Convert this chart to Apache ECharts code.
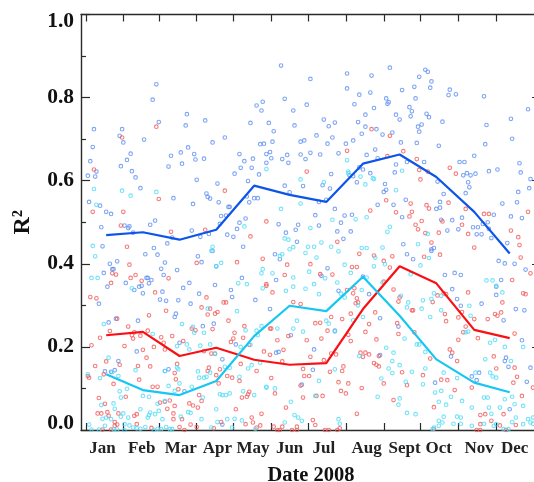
<!DOCTYPE html>
<html><head><meta charset="utf-8">
<script src="https://cdn.jsdelivr.net/npm/echarts@6/dist/echarts.min.js"></script>
<style>html,body{margin:0;padding:0;background:#fff;overflow:hidden}#c{width:534px;height:482px}</style>
</head><body><div id="c"></div>
<script>
const monthLabels=['Jan','Feb','Mar','Apr','May','Jun','Jul','Aug','Sept','Oct','Nov','Dec'];
const monthLabelDays=[13,45,77,107,136,166,194,229,260,288,321,350];
const monthStartDays=[0,30,59,90,120,151,181,212,243,273,304,335];
const lineDays=[16,46,76,106,137,166,196,226,256,286,317,346];
const blueLine=[.469,.476,.458,.482,.588,.566,.549,.641,.663,.609,.525,.425];
const redLine=[.228,.236,.178,.198,.169,.157,.161,.291,.394,.353,.241,.221];
const cyanLine=[.134,.096,.084,.118,.226,.299,.286,.369,.275,.17,.114,.091];
const bluePoints=[[1,.612],[3,.647],[5,.681],[6,.724],[8,.622],[7,.61],[2,.549],[11,.54],[16,.525],[20,.52],[12,.488],[31,.492],[34,.486],[35,.49],[38,.475],[27,.708],[29,.724],[30,.692],[36,.665],[33,.65],[28,.635],[37,.623],[40,.608],[44,.582],[47,.699],[54,.795],[57,.832],[59,.741],[69,.66],[67,.634],[77,.668],[78,.641],[83,.68],[81,.733],[82,.76],[88,.664],[89,.651],[96,.653],[97,.745],[90,.602],[103,.692],[113,.704],[107,.593],[98,.569],[99,.561],[101,.557],[71,.558],[87,.544],[108,.548],[116,.537],[117,.537],[109,.496],[110,.515],[114,.516],[125,.664],[126,.631],[129,.647],[121,.617],[132,.599],[135,.631],[136,.653],[134,.739],[139,.781],[144,.79],[143,.769],[142,.688],[145,.689],[147,.664],[141,.615],[147,.643],[131,.562],[137,.558],[140,.558],[133,.548],[130,.509],[125,.499],[123,.484],[120,.465],[115,.47],[56,.504],[52,.494],[86,.48],[93,.465],[100,.472],[70,.463],
[13,.442],[19,.4],[25,.406],[21,.387],[22,.387],[14,.378],[17,.345],[10,.304],[32,.354],[39,.337],[43,.345],[45,.347],[46,.329],[48,.423],[55,.438],[58,.422],[49,.366],[50,.366],[53,.361],[51,.353],[64,.403],[61,.388],[63,.373],[66,.449],[74,.385],[62,.333],[60,.314],[65,.311],[75,.312],[84,.354],[79,.342],[85,.304],[92,.328],[91,.418],[94,.404],[106,.394],[103,.431],[105,.349],[118,.337],[119,.32],[128,.441],[127,.366],[138,.313],[73,.28],[72,.272],[42,.263],[24,.268],[18,.259],[41,.189],[26,.166],[23,.144],[20,.14],[15,.141],[76,.21],[95,.25],[104,.256],[122,.206],[111,.17],[67,.146],[64,.142],[80,.093],[111,.013],
[159,.877],[183,.845],[213,.858],[213,.822],[233,.853],[248,.872],[277,.867],[279,.862],[272,.85],[282,.839],[281,.824],[268,.826],[258,.818],[232,.812],[223,.807],[297,.819],[296,.806],[302,.808],[325,.803],[269,.798],[245,.798],[247,.789],[246,.785],[219,.784],[162,.797],[180,.783],[169,.769],[235,.775],[264,.777],[266,.767],[265,.755],[253,.759],[256,.747],[228,.759],[278,.761],[280,.753],[194,.747],[203,.74],[198,.731],[222,.741],[274,.735],[271,.73],[272,.718],[291,.742],[327,.734],[347,.749],[361,.772],[149,.739],[170,.733],[153,.719],[228,.73],[237,.724],[225,.713],[250,.716],[242,.711],[188,.709],[201,.704],[152,.694],[175,.694],[178,.697],[197,.689],[218,.697],[212,.689],[257,.692],[270,.691],[288,.684],[326,.688],[348,.701],[150,.669],[164,.662],[160,.652],[165,.643],[151,.654],[175,.663],[179,.652],[183,.667],[191,.663],[206,.666],[229,.662],[236,.675],[238,.654],[253,.639],[262,.645],[276,.645],[317,.66],[305,.645],[309,.645],[354,.642],[355,.62],[329,.623],[336,.627],[223,.632],[226,.627],[252,.62],[232,.618],[200,.616],[215,.613],[218,.611],[287,.598],[311,.618],[314,.613],[318,.617],[308,.613],[312,.596],[313,.584],[221,.596],[363,.604],[362,.582],[162,.588],[177,.587],[193,.589],[199,.581],[244,.592],[245,.578],[243,.573],[353,.573],[292,.568],[310,.57],[166,.572],[196,.554],[190,.549],[289,.549],[286,.532],[289,.535],[261,.554],[251,.542],[238,.542],[340,.545],[352,.548],[203,.532],[187,.517],[211,.516],[217,.518],[258,.512],[208,.499],[157,.495],[173,.494],[171,.482],[190,.492],[163,.475],[205,.478],[216,.478],[210,.46],[290,.506],[299,.505],[307,.511],[304,.483],[295,.48],[316,.488],[320,.488],[324,.496],[328,.5],[333,.518],[319,.471],[323,.471],[329,.484],[331,.462],[347,.514],[356,.51],
[154,.423],[158,.411],[172,.453],[155,.361],[197,.389],[192,.371],[206,.335],[226,.369],[231,.327],[262,.423],[259,.447],[267,.411],[282,.435],[284,.438],[282,.431],[293,.373],[301,.378],[306,.373],[337,.407],[342,.401],[350,.4],[344,.45],[339,.361],[335,.345],[335,.325],[359,.386],[299,.339],[303,.315],[306,.299],[323,.304],[341,.264],[351,.291],[358,.288],[255,.249],[240,.269],[203,.239],[167,.228],[150,.291],[356,.216],[157,.188],[155,.186],[186,.194],[240,.18],[298,.177],[342,.166],[343,.174],[363,.15],[345,.152],[185,.145],[176,.109],[285,.114],[315,.129],[321,.138],[360,.116],[319,.12],[346,.05]];
const redPoints=[[6,.627],[29,.704],[57,.73],[59,.556],[113,.576],[5,.525],[30,.525],[28,.492],[69,.477],[97,.482],[134,.466],[147,.502],
[33,.441],[35,.398],[40,.373],[36,.366],[45,.359],[20,.354],[21,.377],[24,.374],[3,.32],[8,.317],[56,.331],[67,.365],[90,.402],[123,.404],[144,.412],[147,.351],[98,.319],[94,.295],[101,.292],[65,.287],[99,.278],[105,.28],[107,.284],[112,.307],[114,.307],[116,.263],[51,.276],[34,.249],[25,.268],[86,.244],[89,.24],[103,.243],[129,.25],[121,.234],[11,.222],[4,.204],[19,.238],[39,.235],[37,.228],[38,.22],[44,.227],[50,.239],[61,.223],[70,.226],[63,.21],[64,.194],[55,.2],[31,.202],[46,.193],[49,.174],[79,.214],[120,.22],[118,.212],[128,.222],[133,.205],[96,.19],[102,.184],[105,.184],[145,.189],[16,.165],[27,.157],[7,.154],[42,.154],[52,.153],[74,.159],[126,.159],[100,.15],[109,.146],[99,.142],[139,.142],[1,.13],[2,.126],[14,.134],[106,.132],[115,.13],[119,.126],[125,.118],[72,.137],[43,.121],[73,.122],[108,.112],[22,.111],[54,.104],[58,.104],[75,.098],[133,.092],[132,.086],[131,.08],[127,.078],[32,.08],[10,.077],[92,.084],[94,.07],[84,.064],[60,.066],[68,.071],[64,.068],[87,.059],[91,.054],[72,.058],[15,.063],[66,.051],[26,.04],[9,.04],[12,.04],[17,.043],[18,.034],[39,.034],[41,.038],[71,.04],[122,.05],[143,.039],[135,.03],[23,.019],[71,.026],[78,.026],[130,.014],[85,.013],[136,.018],[142,.011],[139,.006],[90,.007],[110,.019],[104,.004],[53,.005],[80,0],[23,.01],[76,.007],[13,.001],[20,.001],[41,.014],[25,.013],
[233,.724],[248,.708],[213,.672],[180,.622],[246,.659],[259,.671],[270,.652],[272,.626],[279,.622],[273,.603],[297,.631],[302,.617],[245,.553],[265,.545],[278,.541],[280,.533],[296,.547],[310,.532],[232,.528],[253,.524],[266,.525],[264,.514],[325,.52],[329,.52],[361,.525],[274,.503],[269,.494],[271,.483],[291,.502],[307,.494],[277,.474],[288,.475],[312,.472],[347,.48],[353,.464],
[164,.398],[183,.399],[162,.373],[191,.375],[201,.374],[169,.308],[175,.303],[152,.331],[147,.347],[217,.392],[221,.392],[235,.42],[243,.407],[248,.391],[250,.418],[223,.424],[205,.453],[276,.417],[289,.422],[282,.451],[317,.439],[354,.445],[355,.415],[363,.377],[348,.361],[243,.357],[213,.337],[219,.341],[218,.329],[251,.338],[221,.317],[222,.307],[220,.305],[256,.319],[255,.309],[266,.288],[267,.288],[216,.28],[209,.267],[236,.283],[283,.308],[287,.324],[292,.329],[294,.327],[312,.331],[293,.279],[294,.262],[304,.271],[307,.284],[317,.267],[328,.267],[334,.279],[336,.275],[339,.283],[357,.329],[359,.327],[340,.307],[200,.272],[187,.257],[191,.258],[197,.239],[150,.244],[151,.244],[231,.255],[214,.229],[254,.257],[255,.231],[268,.235],[308,.235],[310,.249],[350,.232],[165,.226],[228,.236],[192,.22],[180,.216],[156,.216],[216,.214],[237,.218],[304,.217],[320,.221],[161,.193],[150,.181],[200,.184],[204,.182],[183,.176],[194,.168],[224,.186],[228,.186],[226,.176],[231,.182],[239,.178],[235,.161],[237,.157],[239,.153],[160,.165],[281,.172],[297,.194],[299,.186],[303,.166],[333,.177],[335,.148],[350,.15],[210,.153],[177,.147],[199,.14],[209,.142],[258,.139],[275,.132],[178,.13],[182,.13],[352,.128],[151,.125],[349,.114],[206,.115],[262,.108],[243,.112],[290,.121],[295,.12],[214,.112],[175,.107],[225,.101],[365,.102],[208,.094],[212,.088],[154,.088],[301,.096],[315,.102],[188,.082],[193,.082],[177,.078],[356,.082],[251,.072],[284,.055],[163,.054],[221,.039],[341,.038],[322,.036],[326,.038],[331,.022],[338,.011],[322,.014],[284,.003],[185,.024],[187,.012],[172,.008],[153,.008],[160,.008],[156,0],[158,0],[168,0],[172,0],[195,0],[198,0],[205,0],[207,.004],[319,0],[322,0],[351,.012],[343,0]];
const cyanPoints=[[6,.58],[8,.542],[29,.576],[36,.564],[57,.573],[129,.49],[147,.628],
[5,.443],[7,.418],[4,.366],[9,.366],[37,.341],[102,.431],[103,.441],[110,.402],[106,.394],[124,.353],[131,.351],[144,.387],[143,.377],[144,.341],[123,.286],[99,.292],[14,.255],[78,.255],[54,.231],[87,.248],[88,.234],[96,.234],[130,.24],[139,.239],[140,.228],[143,.25],[82,.206],[74,.202],[84,.194],[93,.203],[101,.206],[105,.183],[126,.2],[134,.205],[18,.174],[40,.144],[64,.142],[74,.15],[75,.146],[1,.134],[11,.125],[26,.13],[21,.139],[91,.141],[92,.126],[96,.126],[98,.128],[101,.138],[113,.152],[117,.15],[132,.148],[135,.156],[142,.162],[125,.128],[76,.112],[67,.106],[86,.104],[72,.094],[27,.093],[33,.099],[147,.104],[128,.093],[46,.082],[51,.08],[137,.084],[64,.07],[58,.063],[95,.078],[109,.086],[111,.084],[114,.084],[117,.088],[106,.05],[28,.078],[22,.064],[12,.06],[23,.051],[44,.05],[52,.042],[56,.038],[51,.036],[50,.03],[28,.032],[30,.04],[34,.03],[59,.046],[83,.043],[85,.041],[13,.027],[16,.03],[20,.026],[62,.026],[77,.032],[94,.026],[115,.026],[121,.027],[127,.023],[2,.013],[15,.01],[31,.014],[35,.011],[38,.006],[41,.004],[44,.003],[48,.007],[22,.002],[25,.001],[31,0],[58,.003],[61,.002],[65,.007],[68,.002],[70,.002],[55,0],[102,.006],[119,.006],[138,.003],[107,.019],[4,.001],[10,.001],
[213,.649],[214,.622],[214,.618],[175,.603],[194,.596],[224,.61],[228,.591],[234,.606],[235,.604],[258,.624],[253,.577],[175,.545],[159,.532],[201,.506],[220,.507],[229,.512],[183,.486],[248,.489],[246,.477],[279,.472],[162,.461],[165,.458],
[152,.377],[163,.335],[166,.435],[169,.44],[160,.423],[158,.419],[179,.426],[181,.441],[186,.441],[188,.415],[192,.451],[200,.441],[206,.43],[182,.381],[169,.367],[186,.351],[179,.34],[169,.345],[195,.365],[205,.355],[190,.327],[211,.398],[216,.378],[225,.438],[229,.438],[242,.439],[236,.415],[235,.394],[229,.367],[244,.399],[208,.328],[211,.319],[225,.337],[222,.3],[226,.272],[218,.264],[196,.263],[198,.256],[172,.263],[156,.244],[169,.244],[177,.237],[203,.237],[242,.355],[257,.323],[265,.375],[273,.396],[280,.414],[271,.447],[263,.307],[262,.295],[274,.292],[275,.312],[282,.315],[284,.329],[290,.323],[290,.288],[281,.272],[313,.299],[314,.275],[327,.36],[332,.36],[335,.347],[340,.331],[312,.237],[310,.235],[334,.217],[330,.21],[342,.2],[357,.2],[326,.17],[347,.166],[260,.22],[270,.206],[272,.206],[277,.188],[245,.198],[251,.186],[250,.166],[256,.156],[223,.178],[203,.146],[247,.148],[250,.137],[266,.14],[277,.148],[261,.116],[275,.11],[241,.124],[190,.118],[292,.138],[303,.125],[318,.138],[330,.138],[335,.126],[332,.129],[325,.078],[328,.078],[342,.074],[348,.08],[290,.094],[285,.09],[298,.08],[288,.068],[294,.061],[307,.07],[350,.062],[357,.058],[238,.08],[256,.076],[255,.061],[262,.041],[269,.038],[187,.082],[167,.068],[315,.054],[329,.054],[331,.039],[338,.054],[170,.036],[173,.03],[176,.022],[147,.102],[154,.1],[303,.032],[306,.03],[300,.015],[306,.015],[288,.022],[292,.032],[291,.018],[284,.006],[283,.002],[288,.01],[315,.01],[325,.015],[335,.014],[333,.01],[341,.002],[345,.002],[351,.03],[348,.019],[357,.014],[361,.026],[363,.018],[365,.03],[365,.015],[206,.026],[207,.015],[162,.018]];

const serif='"Liberation Serif","DejaVu Serif",serif';
const axisCol='#2a2a2a';
const lineOf=(ys)=>lineDays.map((d,i)=>[d,ys[i]]);
const dots=(data,col)=>({type:'scatter',data,symbol:'circle',symbolSize:3.6,itemStyle:{color:'transparent',borderColor:col,borderWidth:1.1},silent:true,clip:false});
const line=(ys,col,w)=>({type:'line',data:lineOf(ys),showSymbol:false,symbol:'none',lineStyle:{color:col,width:w},z:5,silent:true});
const chart=echarts.init(document.getElementById('c'),null,{renderer:'canvas'});
chart.setOption({
 animation:false,backgroundColor:'#fff',
 grid:{left:81,top:14.5,width:460,height:415.5,containLabel:false,outerBoundsMode:'none'},
 xAxis:[
  {type:'value',position:'bottom',min:-4.6,max:371.6,
   name:'Date 2008',nameLocation:'middle',nameGap:35,
   nameTextStyle:{fontFamily:serif,fontSize:20.5,fontWeight:'bold',color:'#111'},
   axisLine:{show:true,onZero:false,lineStyle:{color:axisCol,width:1.4}},
   axisTick:{show:true,inside:true,length:7,customValues:monthStartDays,lineStyle:{color:axisCol,width:1.2}},
   axisLabel:{show:true,customValues:monthLabelDays,margin:10,hideOverlap:false,showMinLabel:true,showMaxLabel:true,
     fontFamily:serif,fontSize:17,fontWeight:'bold',color:'#222',
     formatter:(v)=>monthLabels[monthLabelDays.indexOf(v)]||''},
   splitLine:{show:false}},
  {type:'value',position:'top',min:-4.6,max:371.6,
   axisLine:{show:true,onZero:false,lineStyle:{color:axisCol,width:1.4}},
   axisTick:{show:true,inside:true,length:7,customValues:monthStartDays,lineStyle:{color:axisCol,width:1.2}},
   axisLabel:{show:false},splitLine:{show:false}}
 ],
 yAxis:[
  {type:'value',position:'left',min:0,max:1,interval:0.2,
   name:'R²',nameLocation:'middle',nameGap:46,nameRotate:90,
   nameTextStyle:{fontFamily:serif,fontSize:24,fontWeight:'bold',color:'#111'},
   axisLine:{show:true,onZero:false,lineStyle:{color:axisCol,width:1.4}},
   axisTick:{show:true,inside:true,length:9,lineStyle:{color:axisCol,width:1.2}},
   minorTick:{show:true,splitNumber:2,length:5,lineStyle:{color:axisCol,width:1.2}},
   axisLabel:{show:true,margin:7,fontFamily:serif,fontSize:21.5,fontWeight:'bold',color:'#111',lineHeight:14,
     formatter:(v)=>v.toFixed(1),verticalAlignMinLabel:'bottom',verticalAlignMaxLabel:'top'},
   splitLine:{show:false},minorSplitLine:{show:false}},
  {type:'value',position:'right',min:0,max:1,interval:0.2,
   axisLine:{show:false,onZero:false},
   axisTick:{show:true,inside:true,length:9,lineStyle:{color:axisCol,width:1.2}},
   axisLabel:{show:false},splitLine:{show:false}}
 ],
 series:[
  dots(bluePoints,'#5c8ff0'),
  dots(redPoints,'#f25a5a'),
  dots(cyanPoints,'#4fdcf8'),
  line(blueLine,'#0b55e8',2.2),
  line(redLine,'#fa0f14',2.2),
  line(cyanLine,'#17c6f2',2.2)
 ]
});
</script></body></html>
